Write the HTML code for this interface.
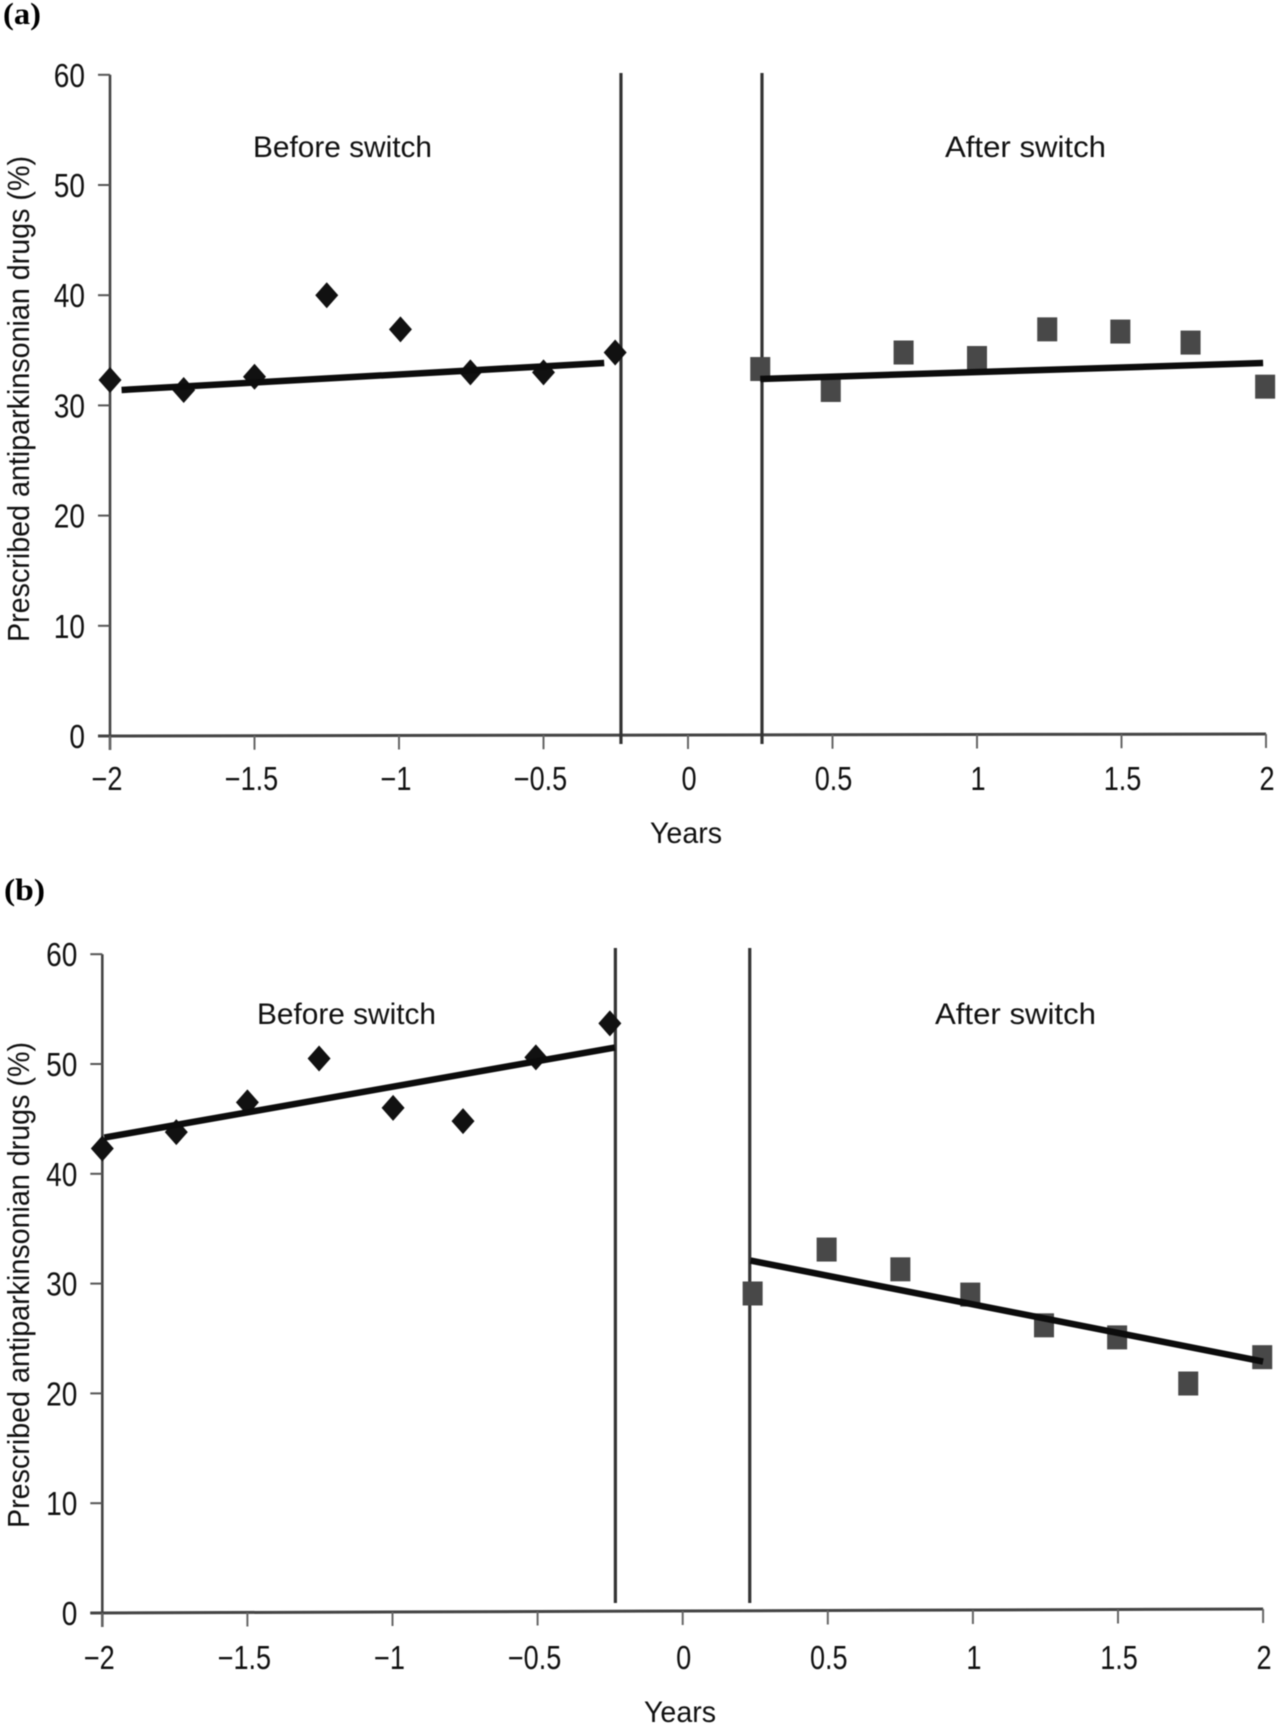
<!DOCTYPE html>
<html lang="en">
<head>
<meta charset="utf-8">
<title>Prescribed antiparkinsonian drugs before and after switch</title>
<style>
html,body{margin:0;padding:0;background:#fff;}
body{width:1278px;height:1725px;overflow:hidden;}
svg{display:block;filter:blur(0.65px);}
text{font-family:"Liberation Sans",sans-serif;fill:#111;}
.panel-tag{font-family:"Liberation Serif",serif;font-weight:bold;font-size:31px;fill:#000;}
</style>
</head>
<body>
<svg id="figure" xmlns="http://www.w3.org/2000/svg" width="1278" height="1725" viewBox="0 0 1278 1725">
  <rect width="1278" height="1725" fill="#fff"/>
  <text class="panel-tag" x="3" y="24" textLength="38" lengthAdjust="spacingAndGlyphs">(a)</text>
  <text class="panel-tag" x="4" y="900" textLength="41" lengthAdjust="spacingAndGlyphs">(b)</text>
</svg>
<script>
// Shared axis tick labels
const yTicks = [0, 10, 20, 30, 40, 50, 60];
const xTicks = [-2, -1.5, -1, -0.5, 0, 0.5, 1, 1.5, 2];

// Panel (a) data
const aBeforeYears = [-2, -1.745, -1.5, -1.25, -0.995, -0.753, -0.5, -0.252];
const aBeforeValues = [32.3, 31.4, 32.6, 40.0, 36.9, 33.0, 33.0, 34.8];
const aAfterYears = [0.25, 0.494, 0.746, 1.0, 1.243, 1.496, 1.739, 1.997];
const aAfterValues = [33.3, 31.4, 34.8, 34.3, 36.9, 36.7, 35.7, 31.7];
const aBeforeTrendYears = [-1.96, -0.29];
const aBeforeTrendValues = [31.4, 33.85];
const aAfterTrendYears = [0.25, 1.99];
const aAfterTrendValues = [32.4, 33.85];
const aSwitchBounds = [-0.232, 0.256];

// Panel (b) data
const bBeforeYears = [-2, -1.745, -1.5, -1.253, -0.998, -0.757, -0.506, -0.251];
const bBeforeValues = [42.3, 43.8, 46.5, 50.5, 46.0, 44.8, 50.6, 53.7];
const bAfterYears = [0.241, 0.496, 0.75, 0.991, 1.245, 1.497, 1.742, 1.997];
const bAfterValues = [29.1, 33.1, 31.3, 29.0, 26.2, 25.1, 20.9, 23.3];
const bBeforeTrendYears = [-1.993, -0.234];
const bBeforeTrendValues = [43.3, 51.5];
const bAfterTrendYears = [0.234, 2.0];
const bAfterTrendValues = [32.1, 22.9];
const bSwitchBounds = [-0.232, 0.231];

const SVG_NS = 'http://www.w3.org/2000/svg';
const figure = document.getElementById('figure');

function shape(parent, tag, props) {
  const el = document.createElementNS(SVG_NS, tag);
  for (const k in props) el.setAttribute(k, props[k]);
  parent.appendChild(el);
  return el;
}

function squeeze(el, factor) {
  const w = el.getComputedTextLength();
  el.setAttribute('textLength', (w * factor).toFixed(1));
  el.setAttribute('lengthAdjust', 'spacingAndGlyphs');
}

function drawPanel(o) {
  const g = shape(figure, 'g', {});
  
  

  const xScale = function (v) { return o.x0 + v * o.xUnit; };
  const yScale = function (v) { return o.y0 - v * o.yUnit; };
  const baseAt = function (v) { return o.y0 - o.tilt * (v + 2) / 4; };

  // Y axis
  const yAxis = shape(g, 'line', { x1: xScale(-2), x2: xScale(-2), y1: yScale(60), y2: o.y0 + 14, stroke: '#444', 'stroke-width': 2.6 });
  
  

  yTicks.forEach(function (t) {
    const tick = shape(g, 'line', { x1: xScale(-2) - 12, x2: xScale(-2), y1: yScale(t), y2: yScale(t), stroke: '#555', 'stroke-width': 2 });
    
    
    const label = shape(g, 'text', { x: xScale(-2) - 25, y: yScale(t) + 12, 'text-anchor': 'end', 'font-size': 33 });
    label.textContent = String(t);
    
    
    squeeze(label, 0.85);
  });

  // X axis
  const xAxis = shape(g, 'line', { x1: xScale(-2) - 12, x2: xScale(2), y1: o.y0, y2: o.y0 - o.tilt, stroke: '#444', 'stroke-width': 3 });
  
  

  xTicks.forEach(function (t) {
    const tick = shape(g, 'line', { x1: xScale(t), x2: xScale(t), y1: baseAt(t), y2: baseAt(t) + 14, stroke: '#666', 'stroke-width': 2 });
    
    
    const label = shape(g, 'text', { x: xScale(t) + (t < 0 ? -3 : 1), y: o.tickBaseline, 'text-anchor': 'middle', 'font-size': 33 });
    label.textContent = (t < 0 ? '\u2212' : '') + Math.abs(t);
    
    
    squeeze(label, 0.82);
  });

  // Switch boundaries
  o.bounds.forEach(function (b) {
    const rule = shape(g, 'line', { x1: xScale(b), x2: xScale(b), y1: o.ruleTop, y2: o.ruleBottom, stroke: '#333', 'stroke-width': 3.2 });
    
    
  });

  // Before points (diamonds)
  o.beforeYears.forEach(function (yr, i) {
    const cx = xScale(yr), cy = yScale(o.beforeValues[i]);
    const mark = shape(g, 'polygon', { points: [cx, cy - 13, cx + 11.5, cy, cx, cy + 13, cx - 11.5, cy].join(','), fill: '#111' });
    
    
  });

  // After points (squares)
  o.afterYears.forEach(function (yr, i) {
    const cx = xScale(yr), cy = yScale(o.afterValues[i]);
    const mark = shape(g, 'rect', { x: cx - 10, y: cy - 12, width: 20, height: 24, fill: '#484848' });
    
    
  });

  // Trend lines
  const before = shape(g, 'line', {
    x1: xScale(o.beforeTrendYears[0]), y1: yScale(o.beforeTrendValues[0]),
    x2: xScale(o.beforeTrendYears[1]), y2: yScale(o.beforeTrendValues[1]),
    stroke: '#0c0c0c', 'stroke-width': 6.5
  });
  
  

  const after = shape(g, 'line', {
    x1: xScale(o.afterTrendYears[0]), y1: yScale(o.afterTrendValues[0]),
    x2: xScale(o.afterTrendYears[1]), y2: yScale(o.afterTrendValues[1]),
    stroke: '#0c0c0c', 'stroke-width': 6.5
  });
  
  

  // Titles and annotations
  const beforeLabel = shape(g, 'text', { x: o.beforeLabelX, y: o.noteBaseline, 'font-size': 30, textLength: 179, lengthAdjust: 'spacingAndGlyphs' });
  beforeLabel.textContent = 'Before switch';
  
  

  const afterLabel = shape(g, 'text', { x: o.afterLabelX, y: o.noteBaseline, 'font-size': 30, textLength: 161, lengthAdjust: 'spacingAndGlyphs' });
  afterLabel.textContent = 'After switch';
  
  

  const xTitle = shape(g, 'text', { x: o.xTitleX, y: o.xTitleBaseline, 'font-size': 30, textLength: 72, lengthAdjust: 'spacingAndGlyphs' });
  xTitle.textContent = 'Years';
  
  

  const yTitle = shape(g, 'text', {
    transform: 'translate(29 ' + o.yTitleBottom + ') rotate(-90)',
    x: 0, y: 0, 'font-size': 31, textLength: 486, lengthAdjust: 'spacingAndGlyphs'
  });
  yTitle.textContent = 'Prescribed antiparkinsonian drugs (%)';
  
  
}

drawPanel({
  name: 'panel-a-chart',
  x0: 688, xUnit: 289, y0: 736, yUnit: 11.02, tilt: 2,
  ruleTop: 73, ruleBottom: 744, tickBaseline: 790,
  noteBaseline: 157, beforeLabelX: 253, afterLabelX: 945,
  xTitleX: 650, xTitleBaseline: 843, yTitleBottom: 642,
  bounds: aSwitchBounds,
  beforeYears: aBeforeYears, beforeValues: aBeforeValues,
  afterYears: aAfterYears, afterValues: aAfterValues,
  beforeTrendYears: aBeforeTrendYears, beforeTrendValues: aBeforeTrendValues,
  afterTrendYears: aAfterTrendYears, afterTrendValues: aAfterTrendValues
});

drawPanel({
  name: 'panel-b-chart',
  x0: 682.7, xUnit: 290.2, y0: 1613, yUnit: 10.98, tilt: 4,
  ruleTop: 948, ruleBottom: 1603, tickBaseline: 1669,
  noteBaseline: 1024, beforeLabelX: 257, afterLabelX: 935,
  xTitleX: 644, xTitleBaseline: 1722, yTitleBottom: 1528,
  bounds: bSwitchBounds,
  beforeYears: bBeforeYears, beforeValues: bBeforeValues,
  afterYears: bAfterYears, afterValues: bAfterValues,
  beforeTrendYears: bBeforeTrendYears, beforeTrendValues: bBeforeTrendValues,
  afterTrendYears: bAfterTrendYears, afterTrendValues: bAfterTrendValues
});
</script>
</body>
</html>
